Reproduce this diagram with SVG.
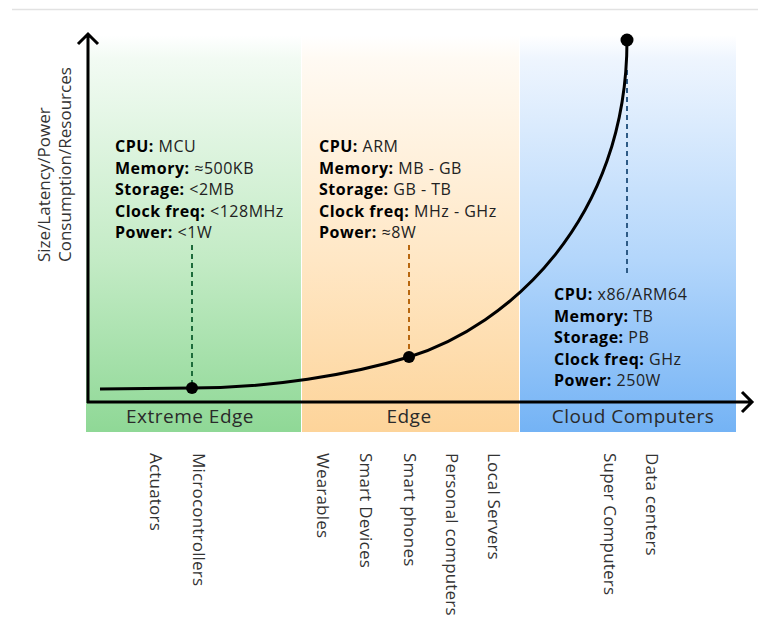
<svg xmlns="http://www.w3.org/2000/svg" width="758" height="624" viewBox="0 0 758 624">
<defs>
<linearGradient id="gG" x1="0" y1="35" x2="0" y2="432" gradientUnits="userSpaceOnUse">
<stop offset="0" stop-color="#ffffff"/><stop offset="0.06" stop-color="#f2fbf3"/><stop offset="0.567" stop-color="#c3ebc5"/><stop offset="1" stop-color="#8fd896"/>
</linearGradient>
<linearGradient id="gO" x1="0" y1="35" x2="0" y2="432" gradientUnits="userSpaceOnUse">
<stop offset="0" stop-color="#ffffff"/><stop offset="0.06" stop-color="#fffaf3"/><stop offset="0.567" stop-color="#ffe7c5"/><stop offset="1" stop-color="#fdd49a"/>
</linearGradient>
<linearGradient id="gB" x1="0" y1="35" x2="0" y2="432" gradientUnits="userSpaceOnUse">
<stop offset="0" stop-color="#ffffff"/><stop offset="0.06" stop-color="#eef5fe"/><stop offset="0.567" stop-color="#b3d6fb"/><stop offset="1" stop-color="#74b3f5"/>
</linearGradient>
<style>
.ax{fill:none;stroke:#000;stroke-width:3}
.cv{fill:none;stroke:#000;stroke-width:3}
.dot{fill:#000}
.dash{fill:none;stroke-width:2;stroke-dasharray:5 4}
.info{font-family:"Open Sans","Liberation Sans",sans-serif;font-size:16px;letter-spacing:0.5px;fill:#222}
.info tspan.b{font-weight:bold;fill:#000}
.band{font-family:"Open Sans","Liberation Sans",sans-serif;font-size:19px;letter-spacing:0.5px;fill:#2a2a2a;text-anchor:middle}
.dev{font-family:"Open Sans","Liberation Sans",sans-serif;font-size:17px;letter-spacing:0.2px;fill:#333}
.yl{font-family:"Open Sans","Liberation Sans",sans-serif;font-size:17px;fill:#333}
</style>
</defs>
<line x1="12" y1="9.5" x2="758" y2="9.5" stroke="#e2e2e2" stroke-width="1.5"/>
<g id="band-extreme-edge">
<rect x="86" y="35" width="215" height="397" fill="url(#gG)"/>
<text class="band" x="190" y="423">Extreme Edge</text>
</g>
<g id="band-edge">
<rect x="302" y="35" width="217" height="397" fill="url(#gO)"/>
<text class="band" x="409" y="423">Edge</text>
</g>
<g id="band-cloud">
<rect x="520" y="35" width="216" height="397" fill="url(#gB)"/>
<text class="band" x="633" y="423">Cloud Computers</text>
</g>
<g id="y-label">
<text class="yl" transform="translate(50,262) rotate(-90)">Size/Latency/Power</text>
<text class="yl" transform="translate(71,262) rotate(-90)">Consumption/Resources</text>
</g>
<g id="connectors">
<line class="dash" x1="192" y1="245" x2="192" y2="386" stroke="#1d6b3b"/>
<line class="dash" x1="409" y1="245" x2="409" y2="355" stroke="#b8670f"/>
<line class="dash" x1="627" y1="70" x2="627" y2="273" stroke="#2e5b86"/>
<path class="cv" d="M100,389 L192,388 C270,388 350,375 409,357 C509,326 627,220 627,40"/>
<path class="ax" d="M88,403 L88,34 M78,44 L88,34 L98,44"/>
<path class="ax" d="M87,402 L752,402 M742,392 L752,402 L742,412"/>
</g>
<g id="point-mcu">
<circle class="dot" cx="192" cy="388" r="6"/>
<text class="info" x="115" y="152"><tspan class="b">CPU:</tspan> MCU</text>
<text class="info" x="115" y="173.5"><tspan class="b">Memory:</tspan> ≈500KB</text>
<text class="info" x="115" y="195"><tspan class="b">Storage:</tspan> &lt;2MB</text>
<text class="info" x="115" y="216.5"><tspan class="b">Clock freq:</tspan> &lt;128MHz</text>
<text class="info" x="115" y="238"><tspan class="b">Power:</tspan> &lt;1W</text>
</g>
<g id="point-arm">
<circle class="dot" cx="409" cy="357" r="6"/>
<text class="info" x="319" y="152"><tspan class="b">CPU:</tspan> ARM</text>
<text class="info" x="319" y="173.5"><tspan class="b">Memory:</tspan> MB - GB</text>
<text class="info" x="319" y="195"><tspan class="b">Storage:</tspan> GB - TB</text>
<text class="info" x="319" y="216.5"><tspan class="b">Clock freq:</tspan> MHz - GHz</text>
<text class="info" x="319" y="238"><tspan class="b">Power:</tspan> ≈8W</text>
</g>
<g id="point-cloud">
<circle class="dot" cx="627" cy="40" r="6.5"/>
<text class="info" x="554" y="300"><tspan class="b">CPU:</tspan> x86/ARM64</text>
<text class="info" x="554" y="321.5"><tspan class="b">Memory:</tspan> TB</text>
<text class="info" x="554" y="343"><tspan class="b">Storage:</tspan> PB</text>
<text class="info" x="554" y="364.5"><tspan class="b">Clock freq:</tspan> GHz</text>
<text class="info" x="554" y="386"><tspan class="b">Power:</tspan> 250W</text>
</g>
<g id="devices">
<text class="dev" transform="translate(150,453) rotate(90)">Actuators</text>
<text class="dev" transform="translate(193,453) rotate(90)">Microcontrollers</text>
<text class="dev" transform="translate(317,453) rotate(90)">Wearables</text>
<text class="dev" transform="translate(360,453) rotate(90)">Smart Devices</text>
<text class="dev" transform="translate(404,453) rotate(90)">Smart phones</text>
<text class="dev" transform="translate(446,453) rotate(90)">Personal computers</text>
<text class="dev" transform="translate(488,453) rotate(90)">Local Servers</text>
<text class="dev" transform="translate(604,453) rotate(90)">Super Computers</text>
<text class="dev" transform="translate(646,453) rotate(90)">Data centers</text>
</g>
</svg>
